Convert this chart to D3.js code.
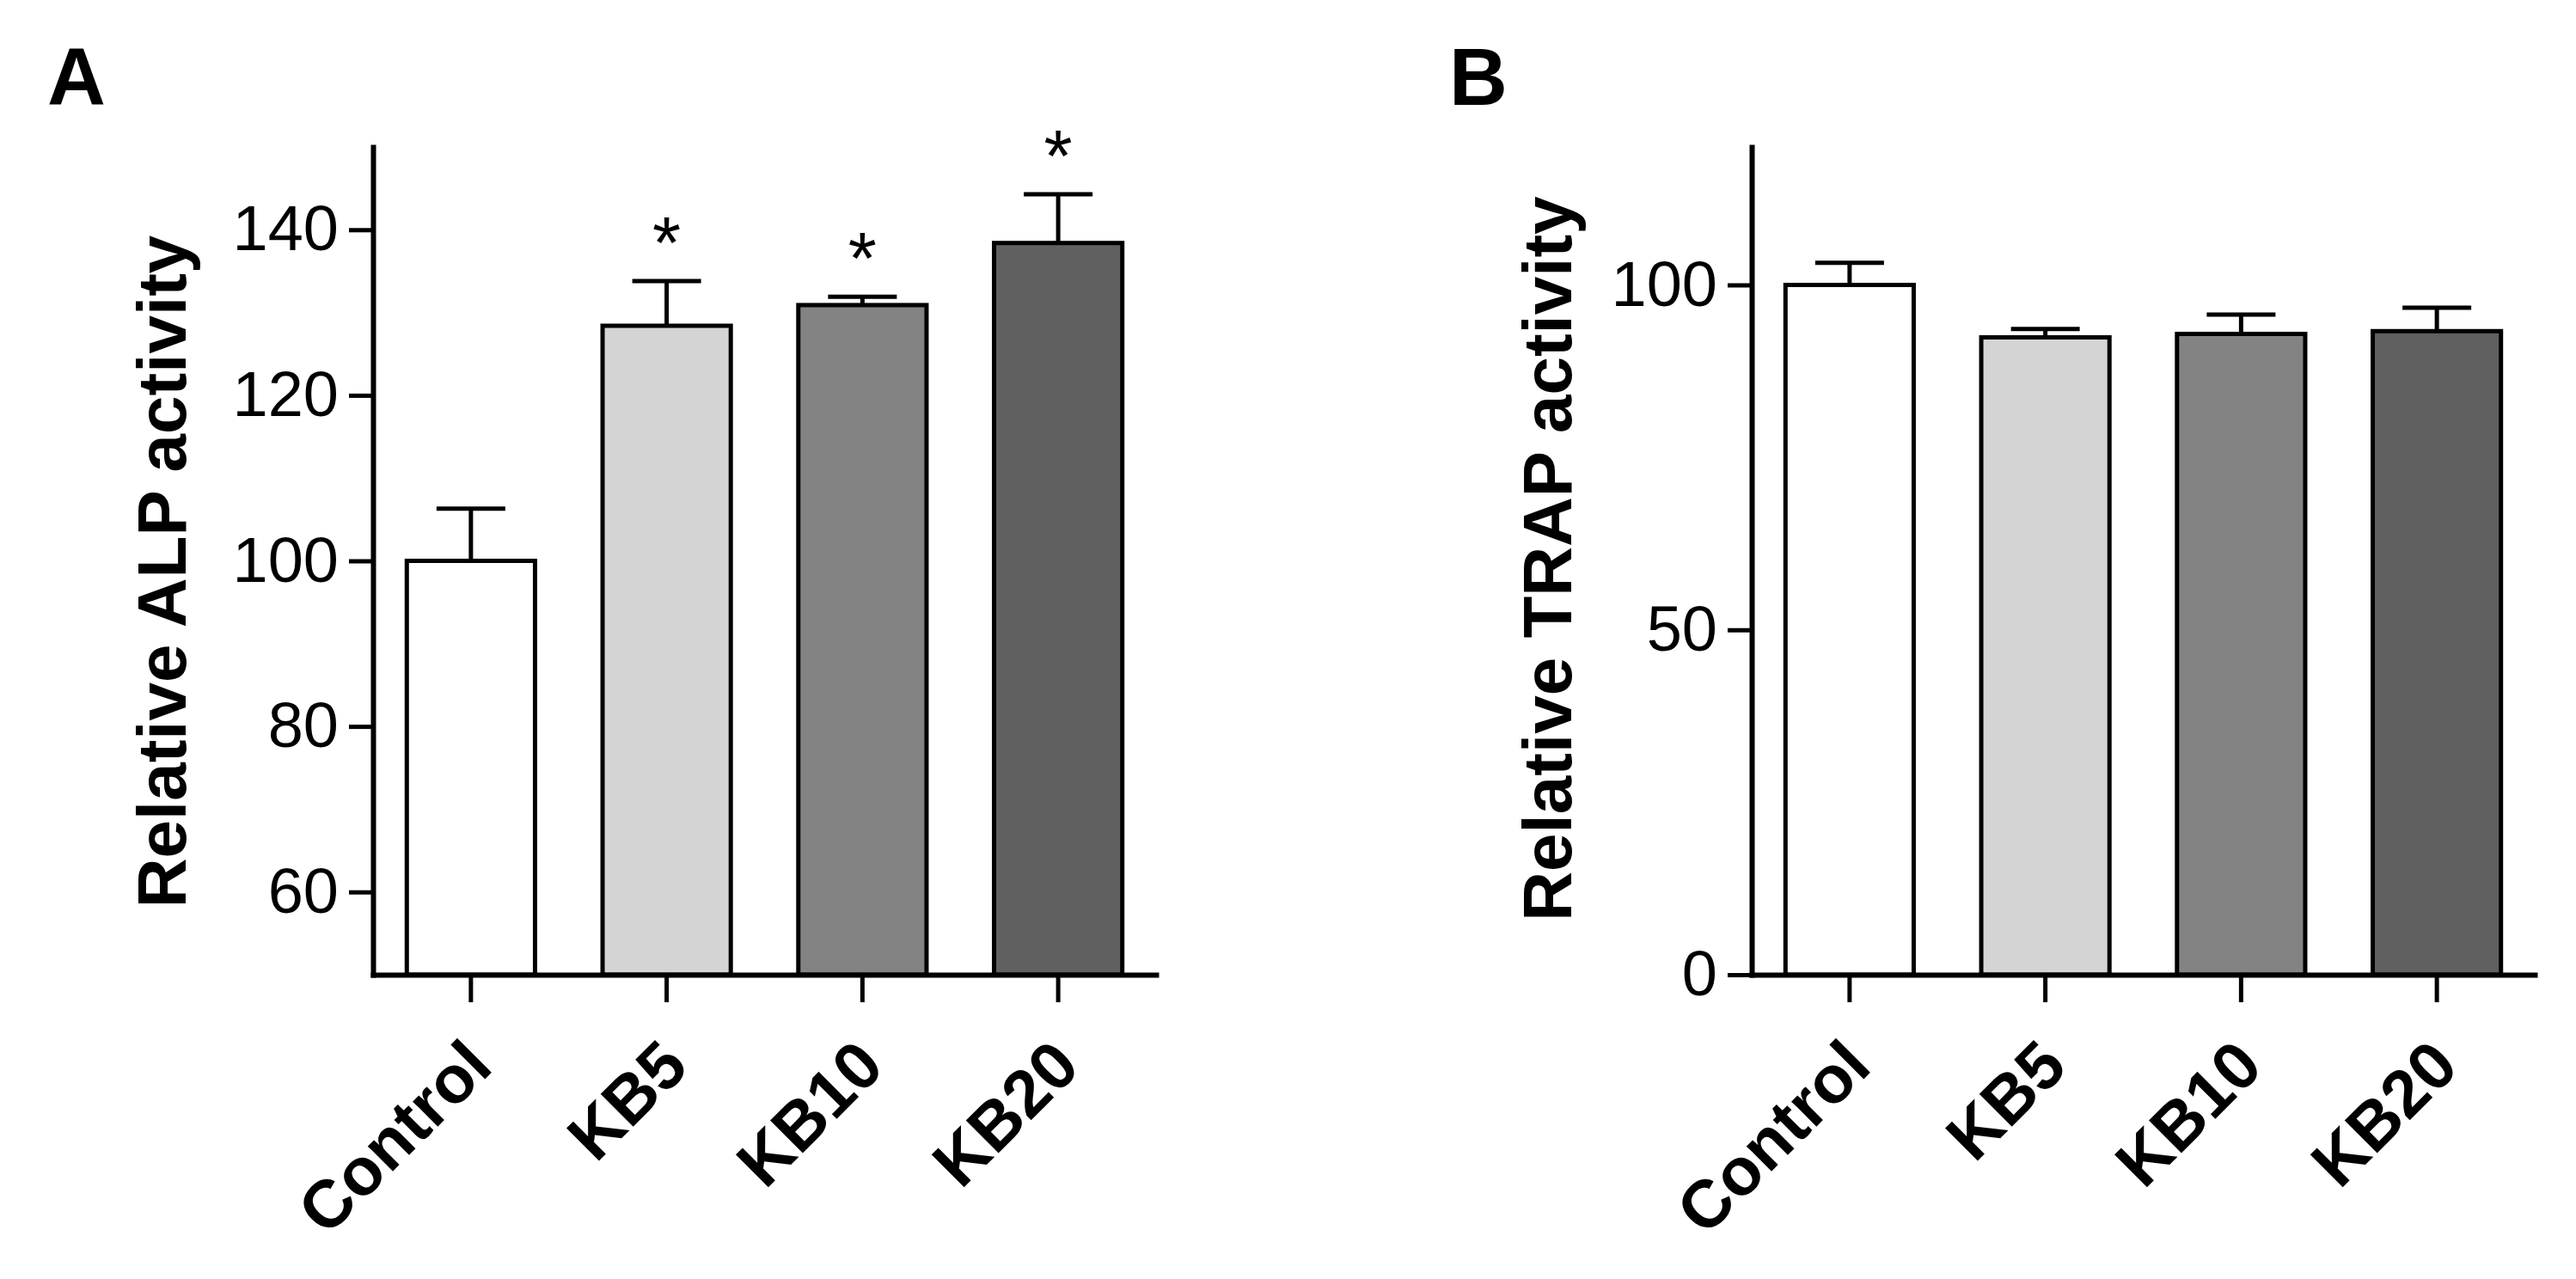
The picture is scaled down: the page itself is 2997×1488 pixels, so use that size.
<!DOCTYPE html>
<html>
<head>
<meta charset="utf-8">
<script src="https://cdnjs.cloudflare.com/ajax/libs/d3/7.8.5/d3.min.js"></script>
<style>
  body { margin: 0; background: #fff; }
</style>
</head>
<body>
<div id="wrapper"></div>
<script>
const categories = ["Control", "KB5", "KB10", "KB20"]
const barColors = ["#ffffff", "#d4d4d4", "#838383", "#606060"]

// panel A
const alpMean = [100, 128.4, 130.9, 138.4]
const alpErr = [6.3, 5.4, 1.0, 5.9]
const alpStar = [false, true, true, true]
const alpTicks = [60, 80, 100, 120, 140]

// panel B
const trapMean = [100, 92.4, 92.9, 93.3]
const trapErr = [3.2, 1.2, 2.8, 3.4]
const trapStar = [false, false, false, false]
const trapTicks = [0, 50, 100]

const width = 2997
const height = 1488
const font = "Arial, 'Liberation Sans', Helvetica, sans-serif"

const svg = d3.select("#wrapper").append("svg")
    .attr("width", width)
    .attr("height", height)
    .style("background", "#fff")

function drawPanel(opt) {
    const g = svg.append("g")

    const x = d3.scaleBand()
        .domain(categories)
        .range([opt.left, opt.left + 911])
        .paddingInner(0.345)
        .paddingOuter(0.1725)

    const y = d3.scaleLinear()
        .domain(opt.domain)
        .range([1134, 171])

    const rows = categories.map((c, i) => ({
        cat: c, mean: opt.mean[i], err: opt.err[i], star: opt.star[i], color: barColors[i]
    }))

    // bars
    g.selectAll("rect.bar").data(rows).enter()
        .append("rect")
        .attr("class", "bar")
        .attr("x", d => x(d.cat))
        .attr("width", x.bandwidth())
        .attr("y", d => y(d.mean))
        .attr("height", d => y(opt.domain[0]) - y(d.mean))
        .attr("fill", d => d.color)
        .attr("stroke", "#000")
        .attr("stroke-width", 5)

    // error bars (upper only)
    const cx = d => x(d.cat) + x.bandwidth() / 2
    g.selectAll("line.err").data(rows).enter()
        .append("line")
        .attr("class", "err")
        .attr("x1", cx).attr("x2", cx)
        .attr("y1", d => y(d.mean))
        .attr("y2", d => y(d.mean + d.err))
        .attr("stroke", "#000")
        .attr("stroke-width", 5)
    g.selectAll("line.cap").data(rows).enter()
        .append("line")
        .attr("class", "cap")
        .attr("x1", d => cx(d) - 40).attr("x2", d => cx(d) + 40)
        .attr("y1", d => y(d.mean + d.err))
        .attr("y2", d => y(d.mean + d.err))
        .attr("stroke", "#000")
        .attr("stroke-width", 5)

    // significance marks
    g.selectAll("text.star").data(rows.filter(d => d.star)).enter()
        .append("text")
        .attr("class", "star")
        .attr("x", cx)
        .attr("y", d => y(d.mean + d.err) - 15)
        .attr("text-anchor", "middle")
        .style("font-family", font)
        .style("font-size", "85px")
        .text("*")

    // y axis
    const yAxis = g.append("g")
        .attr("transform", `translate(${opt.left},0)`)
        .call(d3.axisLeft(y).tickValues(opt.ticks).tickSize(28).tickSizeOuter(0).tickPadding(12))
    yAxis.select(".domain").attr("stroke-width", 6).attr("stroke-linecap", "square")
    yAxis.selectAll(".tick line").attr("stroke-width", 5)
    yAxis.selectAll(".tick text")
        .style("font-family", font)
        .style("font-size", "74px")
        .attr("fill", "#000")

    // x axis
    const xAxis = g.append("g")
        .attr("transform", `translate(0,${y(opt.domain[0])})`)
        .call(d3.axisBottom(x).tickSize(32).tickSizeOuter(0))
    xAxis.select(".domain").attr("stroke-width", 6).attr("stroke-linecap", "square")
    xAxis.selectAll(".tick line").attr("stroke-width", 5)
    xAxis.selectAll(".tick text")
        .attr("x", 28)
        .attr("y", 110)
        .attr("dy", 0)
        .attr("text-anchor", "end")
        .attr("transform", "rotate(-45,28,110)")
        .attr("fill", "#000")
        .style("font-family", font)
        .style("font-size", "78px")
        .style("font-weight", "bold")

    // axis title
    g.append("text")
        .attr("transform", `translate(${opt.titleX},${opt.titleY}) rotate(-90)`)
        .attr("text-anchor", "middle")
        .style("font-family", font)
        .style("font-size", "80px")
        .style("font-weight", "bold")
        .text(opt.title)

    // panel letter
    g.append("text")
        .attr("x", opt.letterX)
        .attr("y", 122)
        .style("font-family", font)
        .style("font-size", "94px")
        .style("font-weight", "bold")
        .text(opt.letter)
}

drawPanel({
    left: 434, domain: [50, 150], ticks: alpTicks,
    mean: alpMean, err: alpErr, star: alpStar,
    title: "Relative ALP activity", titleX: 216, titleY: 665,
    letter: "A", letterX: 55
})

drawPanel({
    left: 2038, domain: [0, 120], ticks: trapTicks,
    mean: trapMean, err: trapErr, star: trapStar,
    title: "Relative TRAP activity", titleX: 1828, titleY: 650,
    letter: "B", letterX: 1686
})
</script>
</body>
</html>
